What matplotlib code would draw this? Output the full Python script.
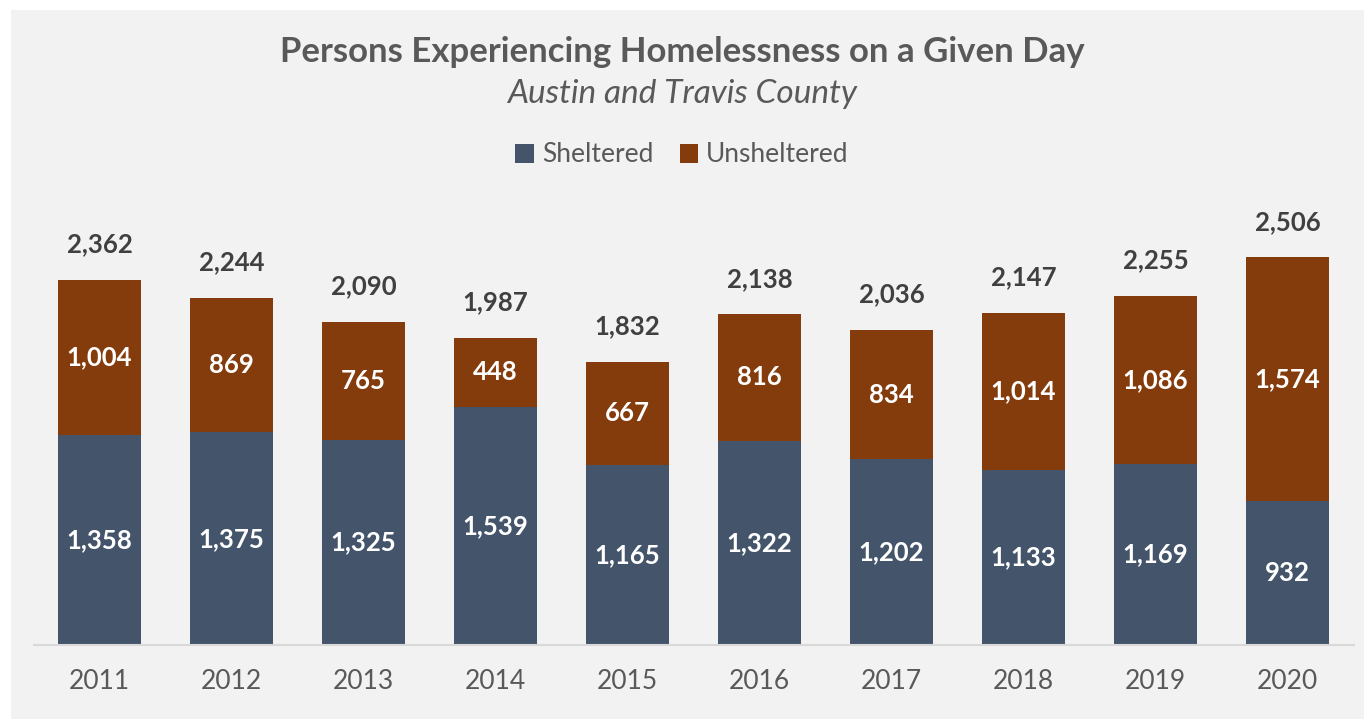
"""
Persons Experiencing Homelessness on a Given Day - stacked bars
"""

import matplotlib
matplotlib.use('Agg')
import matplotlib.pyplot as plt
from matplotlib.patches import Rectangle

plt.rcParams['font.family'] = ['Lato', 'DejaVu Sans']

years = ['2011', '2012', '2013', '2014', '2015', '2016', '2017', '2018', '2019', '2020']
sheltered = [1358, 1375, 1325, 1539, 1165, 1322, 1202, 1133, 1169, 932]
unsheltered = [1004, 869, 765, 448, 667, 816, 834, 1014, 1086, 1574]
totals = [2362, 2244, 2090, 1987, 1832, 2138, 2036, 2147, 2255, 2506]

c_shel = '#44546A'
c_unsh = '#843C0C'
text_gray = '#595959'

W, H = 1364, 719
fig = plt.figure(figsize=(W / 100, H / 100), dpi=100)
fig.patch.set_facecolor('white')
# grey panel with a thin white margin on the top and left
fig.patches.append(Rectangle((11 / W, 0), 1 - 11 / W, 1 - 10 / H,
                             transform=fig.transFigure, facecolor='#F2F2F2',
                             edgecolor='none', zorder=-10))

ax = fig.add_axes([33.5 / W, 1 - 645 / H, 1320 / W, 464 / H])
ax.set_facecolor('none')
ax.set_zorder(1)

x = list(range(len(years)))
b1 = ax.bar(x, sheltered, width=0.63, color=c_shel, label='Sheltered', zorder=2)
b2 = ax.bar(x, unsheltered, width=0.63, bottom=sheltered, color=c_unsh,
            label='Unsheltered', zorder=2)

for i in x:
    ax.text(i, sheltered[i] / 2, f'{sheltered[i]:,}', ha='center', va='center',
            color='white', fontsize=18.5, fontweight='bold', zorder=3)
    ax.text(i, sheltered[i] + unsheltered[i] / 2, f'{unsheltered[i]:,}',
            ha='center', va='center', color='white', fontsize=18.5,
            fontweight='bold', zorder=3)
    ax.annotate(f'{totals[i]:,}', (i, totals[i]), xytext=(0, 17),
                textcoords='offset points', ha='center', va='bottom',
                color='#404040', fontsize=18.5, fontweight='bold')

ax.set_xlim(-0.5, len(years) - 0.5)
ax.set_ylim(0, 3000)
ax.set_xticks(x)
ax.set_xticklabels(years, fontsize=19, color=text_gray)
ax.tick_params(axis='x', length=0, pad=17)
ax.set_yticks([])
for s in ['top', 'right', 'left']:
    ax.spines[s].set_visible(False)
ax.spines['bottom'].set_color('#D9D9D9')
ax.spines['bottom'].set_linewidth(1.5)

fig.text(0.5, 1 - 52 / H, 'Persons Experiencing Homelessness on a Given Day',
         ha='center', va='center', fontsize=25, fontweight='bold', color=text_gray)
fig.text(0.5, 1 - 94 / H, 'Austin and Travis County', ha='center', va='center',
         fontsize=24, style='italic', color=text_gray)

fig.legend(handles=[b1, b2], labels=['Sheltered', 'Unsheltered'],
           loc='center', bbox_to_anchor=(0.5, 1 - 155 / H), ncol=2,
           frameon=False, fontsize=19, labelcolor=text_gray,
           handlelength=0.7, handleheight=0.7, handletextpad=0.3,
           columnspacing=1.0)

fig.savefig('out.png', dpi=100, facecolor=fig.get_facecolor())
